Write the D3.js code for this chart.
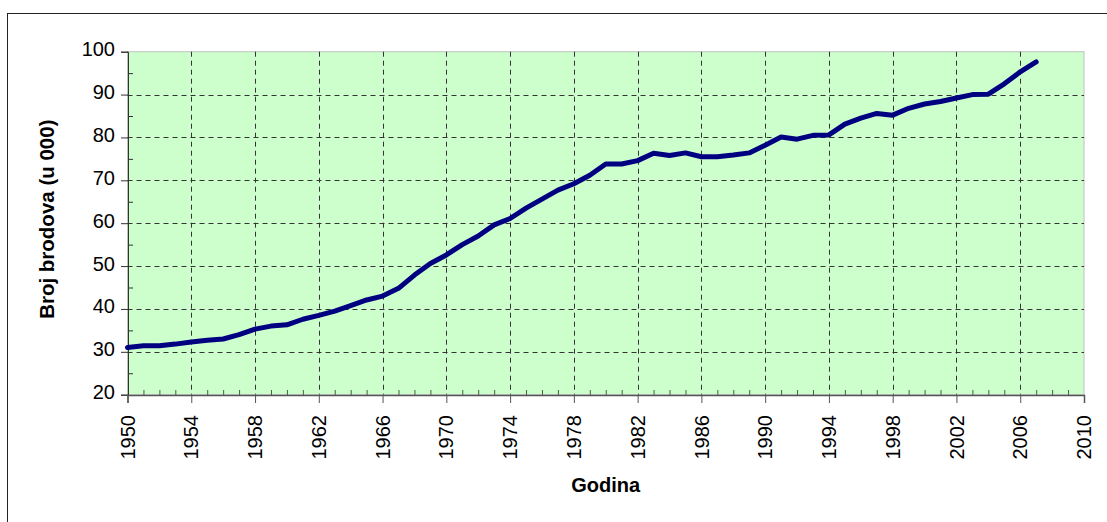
<!DOCTYPE html>
<html>
<head>
<meta charset="utf-8">
<script src="https://cdn.jsdelivr.net/npm/d3@7/dist/d3.min.js"></script>
<style>
  body { margin: 0; background: #fff; }
  svg text { font-family: "Liberation Sans", Arial, sans-serif; fill: #000; }
</style>
</head>
<body>
<div id="chart"></div>
<script>
var width = 1107
var height = 522

// godine i broj brodova (u 000), procijenjeno sa slike
var years = [1950, 1951, 1952, 1953, 1954, 1955, 1956, 1957, 1958, 1959,
  1960, 1961, 1962, 1963, 1964, 1965, 1966, 1967, 1968, 1969,
  1970, 1971, 1972, 1973, 1974, 1975, 1976, 1977, 1978, 1979,
  1980, 1981, 1982, 1983, 1984, 1985, 1986, 1987, 1988, 1989,
  1990, 1991, 1992, 1993, 1994, 1995, 1996, 1997, 1998, 1999,
  2000, 2001, 2002, 2003, 2004, 2005, 2006, 2007]
var ships = [31.0, 31.4, 31.4, 31.8, 32.3, 32.7, 33.0, 34.0, 35.3, 36.0,
  36.3, 37.6, 38.5, 39.5, 40.8, 42.1, 43.0, 44.8, 47.9, 50.6,
  52.6, 55.0, 57.0, 59.6, 61.1, 63.5, 65.6, 67.7, 69.2, 71.2,
  73.8, 73.8, 74.6, 76.3, 75.8, 76.4, 75.5, 75.5, 75.9, 76.4,
  78.2, 80.1, 79.6, 80.5, 80.6, 83.1, 84.5, 85.6, 85.2, 86.8,
  87.8, 88.4, 89.2, 90.0, 90.1, 92.5, 95.3, 97.6]

var yTicks = [20, 30, 40, 50, 60, 70, 80, 90, 100]
var xTicks = [1950, 1954, 1958, 1962, 1966, 1970, 1974, 1978, 1982, 1986,
  1990, 1994, 1998, 2002, 2006, 2010]

var pLeft = 127.5, pRight = 1084, pTop = 51.7, pBottom = 394.7

var svg = d3.select('#chart').append('svg')
  .attr('width', width)
  .attr('height', height)

// okvir
svg.append('rect')
  .attr('x', 7.5).attr('y', 13.5)
  .attr('width', 1120).attr('height', 530)
  .attr('fill', 'none').attr('stroke', '#222').attr('stroke-width', 1)

var x = d3.scaleLinear().domain([1950, 2010]).range([pLeft, pRight])
var y = d3.scaleLinear().domain([20, 100]).range([pBottom, pTop])

svg.append('rect')
  .attr('x', pLeft).attr('y', pTop)
  .attr('width', pRight - pLeft).attr('height', pBottom - pTop)
  .attr('fill', '#ccffcc')
  .attr('stroke', '#c0c0c0')

// mreža
svg.append('g').selectAll('line')
  .data(yTicks.slice(1, -1))
  .enter().append('line')
  .attr('x1', pLeft).attr('x2', pRight)
  .attr('y1', function (d) { return Math.round(y(d)) + 0.5 })
  .attr('y2', function (d) { return Math.round(y(d)) + 0.5 })
  .attr('stroke', '#333').attr('stroke-dasharray', '5,4')

svg.append('g').selectAll('line')
  .data(xTicks.slice(1, -1))
  .enter().append('line')
  .attr('y1', pTop).attr('y2', pBottom)
  .attr('x1', function (d) { return Math.round(x(d)) + 0.5 })
  .attr('x2', function (d) { return Math.round(x(d)) + 0.5 })
  .attr('stroke', '#333').attr('stroke-dasharray', '5,4')

// osi
var yAxis = d3.axisLeft(y).tickValues(yTicks).tickSize(7).tickPadding(6)
var gy = svg.append('g')
  .attr('transform', 'translate(' + Math.round(pLeft) + ',0)')
  .call(yAxis)
gy.select('.domain').attr('stroke', '#333')
gy.selectAll('.tick line').attr('stroke', '#333')
gy.selectAll('.tick text')
  .attr('font-size', 20).attr('dy', '0.2em')
  .style('font-family', '"Liberation Sans", Arial, sans-serif')

var yMinor = d3.axisRight(y).tickValues(d3.range(25, 100, 10)).tickSize(5).tickFormat('')
var gym = svg.append('g')
  .attr('transform', 'translate(' + Math.round(pLeft) + ',0)')
  .call(yMinor)
gym.select('.domain').remove()
gym.selectAll('.tick line').attr('stroke', '#333')

var xAxis = d3.axisBottom(x).tickValues(xTicks).tickSize(8).tickFormat(d3.format('d'))
var gx = svg.append('g')
  .attr('transform', 'translate(0,' + Math.round(pBottom) + ')')
  .call(xAxis)
gx.select('.domain').attr('stroke', '#555').attr('stroke-width', 1.5)
gx.selectAll('.tick line').attr('stroke', '#555')
gx.selectAll('.tick text')
  .attr('font-size', 20)
  .attr('text-anchor', 'end')
  .attr('transform', 'rotate(-90)')
  .attr('x', -20).attr('y', 0).attr('dy', '0.33em')
  .style('font-family', '"Liberation Sans", Arial, sans-serif')

var xMinor = d3.axisTop(x).tickValues(d3.range(1951, 2010).filter(function (d) { return (d - 1950) % 4 !== 0 }))
  .tickSize(5).tickFormat('')
var gxm = svg.append('g')
  .attr('transform', 'translate(0,' + Math.round(pBottom) + ')')
  .call(xMinor)
gxm.select('.domain').remove()
gxm.selectAll('.tick line').attr('stroke', '#555')

// linija
var line = d3.line()
  .x(function (d, i) { return x(years[i]) })
  .y(function (d) { return y(d) })

svg.append('path')
  .datum(ships)
  .attr('d', line)
  .attr('fill', 'none')
  .attr('stroke', '#000080')
  .attr('stroke-width', 5)
  .attr('stroke-linejoin', 'round')
  .attr('stroke-linecap', 'round')

// naslovi osi
svg.append('text')
  .attr('x', (pLeft + pRight) / 2).attr('y', 492)
  .attr('text-anchor', 'middle')
  .attr('font-size', 20).attr('font-weight', 'bold')
  .text('Godina')

svg.append('text')
  .attr('transform', 'translate(54,' + ((pTop + pBottom) / 2 - 4) + ') rotate(-90)')
  .attr('text-anchor', 'middle')
  .attr('font-size', 20.5).attr('font-weight', 'bold')
  .text('Broj brodova (u 000)')
</script>
</body>
</html>
